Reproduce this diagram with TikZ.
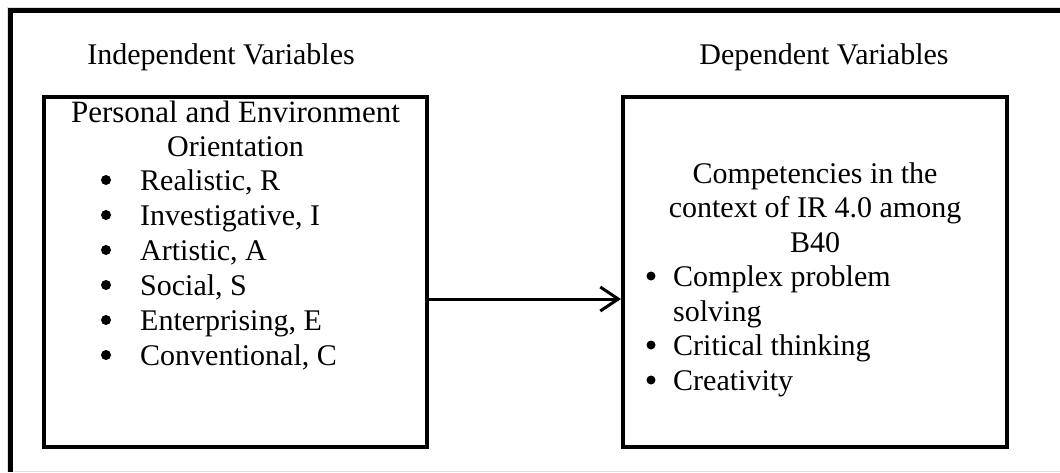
\documentclass[tikz,border=0pt]{standalone}
\usepackage{fontspec}
\setmainfont{Liberation Serif}
\usetikzlibrary{arrows.meta}
\tikzset{
  txt/.style={inner sep=0pt, font=\fontsize{30}{34.5}\selectfont},
  boxed/.style={draw, line width=4pt, inner sep=0pt},
  bul/.style={circle, fill=black, inner sep=0pt, minimum size=#1},
  frameline/.style={line width=5pt},
  hairline/.style={draw=black!12, line width=1pt},
}
\begin{document}
\begin{tikzpicture}[x=1pt,y=-1pt]
\useasboundingbox (0,0) rectangle (1060,472);
% outer frame
\draw[hairline] (1060,7) -- (7,7) -- (7,472);
\draw[hairline] (14,471) -- (1060,471);
\draw[frameline] (1060,10.5) -- (10.5,10.5) -- (10.5,472);
% headings
\node[txt, anchor=base] (indep) at (221,64) {Independent Variables};
\node[txt, anchor=base] (dep) at (824,64) {Dependent Variables};
% boxes
\node[boxed, minimum width=383pt, minimum height=350pt] (lbox) at (235.5,272) {};
\node[boxed, minimum width=384pt, minimum height=350pt] (rbox) at (815,272) {};
% left box text
\node[txt, anchor=base, font=\fontsize{31}{34.5}\selectfont] (l1) at (235.5,122) {Personal and Environment};
\node[txt, anchor=base] (l2) at (235.5,156) {Orientation};
\foreach \t/\y [count=\i] in {{Realistic, R}/190,{Investigative, I}/225,{Artistic, A}/260,{Social, S}/295,{Enterprising, E}/330,{Conventional, C}/365}{
  \node[bul=10pt] (lb\i) at (106,\y-10) {};
  \node[txt, anchor=base west] (lt\i) at (140,\y) {\t};
}
% right box text
\node[txt, anchor=base] (r1) at (815,183) {Competencies in the};
\node[txt, anchor=base] (r2) at (815,217) {context of IR 4.0 among};
\node[txt, anchor=base] (r3) at (815,252) {B40};
\node[bul=9pt] (rb1) at (651,276) {};
\node[txt, anchor=base west] (rt1) at (673,286) {Complex problem};
\node[txt, anchor=base west] (rt1b) at (673,321) {solving};
\node[bul=9pt] (rb2) at (651,345) {};
\node[txt, anchor=base west] (rt2) at (673,355) {Critical thinking};
\node[bul=9pt] (rb3) at (651,380) {};
\node[txt, anchor=base west] (rt3) at (673,390) {Creativity};
% arrow
\coordinate (ay) at (0,299);
\draw[line width=3pt, -{Straight Barb[length=18pt,width=24pt,line width=3pt]}] (lbox.east |- ay) -- (rbox.west |- ay);
\end{tikzpicture}
\end{document}
